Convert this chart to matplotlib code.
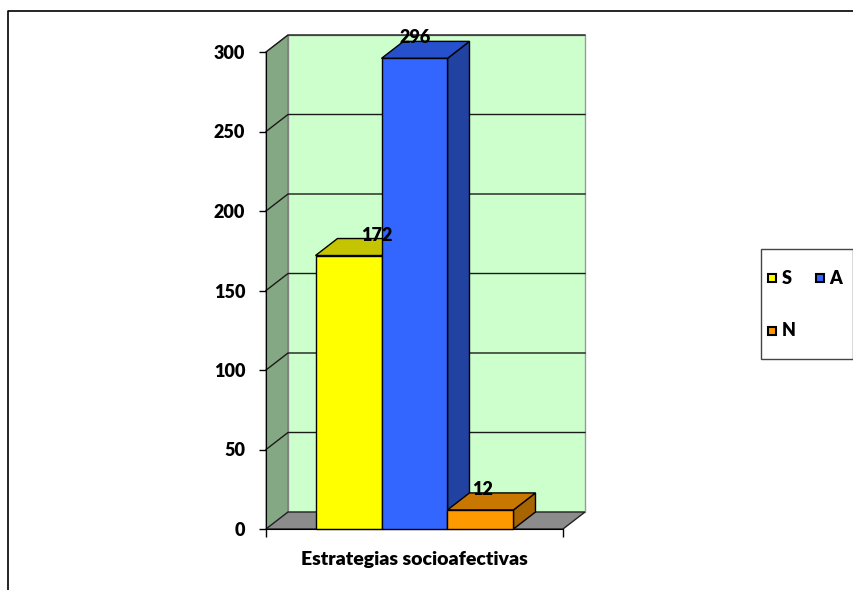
import matplotlib
matplotlib.use("Agg")
import matplotlib.pyplot as plt
from matplotlib.patches import Polygon, Rectangle
import matplotlib.transforms as mtransforms

plt.rcParams['font.family'] = ['Lato', 'DejaVu Sans']
FW = 'heavy'

# ---- data ----
category = "Estrategias socioafectivas"
series = ["S", "A", "N"]
values = [172, 296, 12]
y_ticks = [0, 50, 100, 150, 200, 250, 300]
y_max = 300

# ---- styles ----
front_colors = ["#FFFF00", "#3366FF", "#FF9900"]
top_colors = ["#C4C400", "#2650CC", "#C87800"]
side_colors = ["#A3A300", "#2142A0", "#A86400"]
wall_color = "#CCFFCC"
left_wall_color = "#84A884"
floor_color = "#8C8C8C"
label_dx_px = [28, 1, 2]

W, H = 854, 590
fig = plt.figure(figsize=(W / 100, H / 100), dpi=100)

# front plane of the 3D plot area (pixel geometry)
L, R, B, T = 266, 563, 529, 52
ax = fig.add_axes([L / W, 1 - B / H, (R - L) / W, (B - T) / H])
ax.set_xlim(-0.5, 0.5)
ax.set_ylim(0, y_max)
ax.patch.set_visible(False)

dxp, dyp = 22, 17
ddx = dxp / (R - L)
ddy = dyp / (B - T) * y_max

# back wall
ax.add_patch(Polygon([(-0.5 + ddx, ddy), (0.5 + ddx, ddy), (0.5 + ddx, y_max + ddy),
                      (-0.5 + ddx, y_max + ddy)], closed=True, facecolor=wall_color,
                     edgecolor="#9a9a9a", lw=1, clip_on=False, zorder=0))
# left wall
ax.add_patch(Polygon([(-0.5, 0), (-0.5 + ddx, ddy), (-0.5 + ddx, y_max + ddy), (-0.5, y_max)],
                     closed=True, facecolor=left_wall_color, edgecolor="#707070", lw=0.8,
                     clip_on=False, zorder=0.5))
# floor
ax.add_patch(Polygon([(-0.5, 0), (0.5, 0), (0.5 + ddx, ddy), (-0.5 + ddx, ddy)], closed=True,
                     facecolor=floor_color, edgecolor="#222222", lw=1, clip_on=False, zorder=0.6))

# gridlines on walls
for v in y_ticks[1:]:
    ax.plot([-0.5, -0.5 + ddx, 0.5 + ddx], [v, v + ddy, v + ddy], color="#1a1a1a", lw=1,
            clip_on=False, zorder=0.8)

# bars
n = len(values)
bw = 0.2222
xs = [(i - (n - 1) / 2) * bw for i in range(n)]
for i, (x, v) in enumerate(zip(xs, values)):
    x0, x1 = x - bw / 2, x + bw / 2
    z = 2 + i
    ax.add_patch(Polygon([(x1, 0), (x1 + ddx, ddy), (x1 + ddx, v + ddy), (x1, v)], closed=True,
                         facecolor=side_colors[i], edgecolor="black", lw=1, clip_on=False, zorder=z))
    ax.add_patch(Polygon([(x0, v), (x1, v), (x1 + ddx, v + ddy), (x0 + ddx, v + ddy)], closed=True,
                         facecolor=top_colors[i], edgecolor="black", lw=1, clip_on=False, zorder=z))
    ax.bar(x, v, width=bw, color=front_colors[i], edgecolor="black", lw=1, zorder=z + 0.1,
           clip_on=False)
    tr = mtransforms.offset_copy(ax.transData, fig=fig, x=label_dx_px[i], y=-5, units='dots')
    ax.text(x, v + ddy, str(v), transform=tr, ha='center', va='bottom', fontsize=13,
            fontweight=FW, zorder=10)

# axes styling
for s in ["top", "right"]:
    ax.spines[s].set_visible(False)
ax.spines["left"].set_color("black")
ax.spines["bottom"].set_color("black")
ax.spines["left"].set_zorder(1)
ax.set_yticks(y_ticks)
ax.set_yticklabels([str(t) for t in y_ticks], fontsize=13, fontweight=FW)
ax.tick_params(axis='y', length=5, width=1, pad=10, direction='out')
ax.set_xticks([0])
ax.set_xticklabels([category], fontsize=14, fontweight=FW)
ax.tick_params(axis='x', which='major', length=0, pad=16)
ax.set_xticks([-0.5, 0.5], minor=True)
ax.tick_params(axis='x', which='minor', length=5.5, width=1, direction='out')

# overlay for frame and legend (pixel coordinates)
ov = fig.add_axes([0, 0, 1, 1], zorder=-1)
ov.set_xlim(0, W)
ov.set_ylim(H, 0)
ov.axis('off')
ov.plot([8, 8, W + 5], [H + 5, 11, 11], color="black", lw=1.2, clip_on=False)

ov2 = fig.add_axes([0, 0, 1, 1], zorder=5)
ov2.set_xlim(0, W)
ov2.set_ylim(H, 0)
ov2.axis('off')
ov2.add_patch(Rectangle((761, 249), 92, 110, facecolor="white", edgecolor="#444444", lw=1))
leg_pos = [(772.5, 278), (820.5, 278), (772.5, 331)]
for i, (name, (cx, cy)) in enumerate(zip(series, leg_pos)):
    ov2.add_patch(Rectangle((cx - 4, cy - 4), 8, 8, facecolor=front_colors[i],
                            edgecolor="black", lw=1.5))
    ov2.text(cx + 9, cy, name, ha='left', va='center', fontsize=13, fontweight=FW)

fig.savefig("out.png", dpi=100)
